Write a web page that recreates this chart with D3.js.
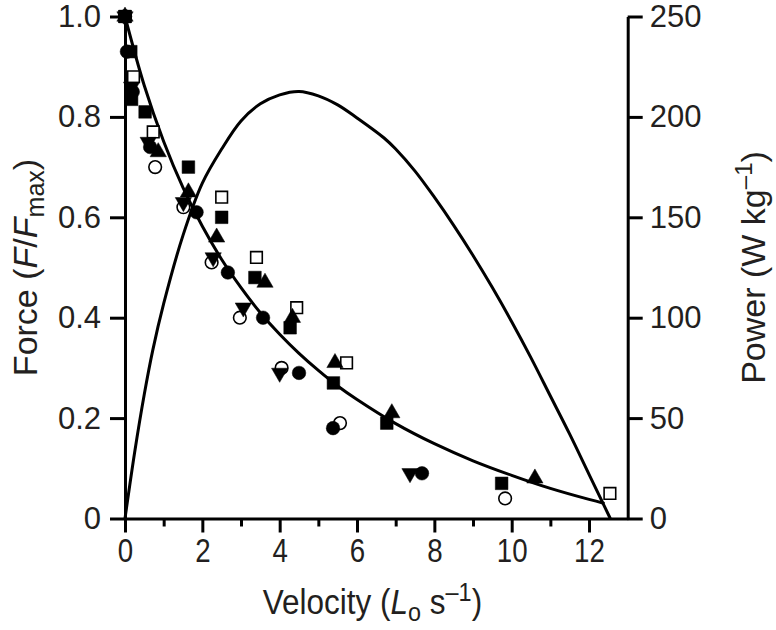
<!DOCTYPE html>
<html>
<head>
<meta charset="utf-8">
<script src="https://cdn.jsdelivr.net/npm/d3@7"></script>
<style>
  html, body { margin: 0; padding: 0; background: #fff; }
  svg { display: block; }
  .lbl { font-family: "Liberation Sans", Arial, sans-serif; fill: #231f20; }
</style>
</head>
<body>
<svg id="chart" width="776" height="630"></svg>
<script>
// ---------- data ----------
const xTicksMajor = [0, 2, 4, 6, 8, 10, 12];
const xTicksMinor = [1, 3, 5, 7, 9, 11];
const forceTicks = [0, 0.2, 0.4, 0.6, 0.8, 1.0];
const powerTicks = [0, 50, 100, 150, 200, 250];

// force–velocity fit curve (velocity, F/Fmax)
const forceCurve = [
  [0, 1.0], [0.5, 0.862], [1.0, 0.751], [1.5, 0.659], [2.0, 0.582], [2.5, 0.516],
  [3.0, 0.460], [3.5, 0.410], [4.0, 0.367], [4.5, 0.329], [5.0, 0.295], [5.5, 0.264],
  [6.0, 0.237], [7.0, 0.189], [8.0, 0.149], [9.0, 0.115], [10.0, 0.086], [11.0, 0.060],
  [12.0, 0.038], [12.4, 0.030]
];
// power–velocity curve (velocity, W kg-1)
const powerCurve = [
  [0, 0], [0.25, 33], [0.5, 62], [0.72, 84], [1.0, 107], [1.5, 141], [2.0, 167],
  [2.5, 184], [3.0, 198], [3.5, 206.5], [4.0, 211], [4.5, 212.7], [5.0, 210.5],
  [5.5, 206], [6.0, 199.5], [6.7, 189.5], [7.0, 184], [7.5, 173], [8.0, 160],
  [8.5, 146], [9.0, 131], [9.5, 115], [10.0, 98], [10.5, 80], [11.0, 61],
  [11.5, 42], [12.0, 22], [12.55, 0]
];

// measured points (velocity, F/Fmax) for each muscle
const filledCircles = [[0, 1.0], [0.05, 0.93], [0.2, 0.85], [0.65, 0.74], [1.85, 0.61], [2.66, 0.49],
  [3.57, 0.40], [4.5, 0.29], [5.38, 0.18], [7.68, 0.09]];
const openCircles = [[0, 1.0], [0.78, 0.70], [1.51, 0.62], [2.24, 0.51], [2.97, 0.40], [4.05, 0.30],
  [5.56, 0.19], [9.83, 0.04]];
const filledSquares = [[0, 1.0], [0.15, 0.93], [0.17, 0.835], [0.52, 0.81], [1.64, 0.70], [2.5, 0.60],
  [3.36, 0.48], [4.27, 0.38], [5.39, 0.27], [6.77, 0.19], [9.74, 0.07]];
const openSquares = [[0, 1.0], [0.22, 0.88], [0.73, 0.77], [2.5, 0.64], [3.4, 0.52], [4.44, 0.42],
  [5.73, 0.31], [12.54, 0.05]];
const upTriangles = [[0, 1.0], [0.86, 0.73], [1.64, 0.65], [2.37, 0.56], [3.62, 0.47], [4.33, 0.40],
  [5.43, 0.31], [6.9, 0.21], [10.6, 0.08]];
const downTriangles = [[0, 1.0], [0.17, 0.86], [0.6, 0.75], [1.51, 0.63], [2.28, 0.52], [3.06, 0.42],
  [4.0, 0.29], [7.37, 0.09]];

// ---------- chart ----------
const svg = d3.select("#chart");
const x = d3.scaleLinear().domain([0, 13]).range([125, 627.7]);
const yF = d3.scaleLinear().domain([0, 1]).range([518.5, 16.5]);
const yP = d3.scaleLinear().domain([0, 250]).range([518.5, 16.5]);
const ink = "#000";
const textInk = "#231f20";
const axisW = 3;

// curves
const lineF = d3.line().x(d => x(d[0])).y(d => yF(d[1])).curve(d3.curveCatmullRom);
const lineP = d3.line().x(d => x(d[0])).y(d => yP(d[1])).curve(d3.curveCatmullRom);
svg.append("path").attr("d", lineF(forceCurve)).attr("fill", "none").attr("stroke", ink).attr("stroke-width", 3);
svg.append("path").attr("d", lineP(powerCurve)).attr("fill", "none").attr("stroke", ink).attr("stroke-width", 3);

// axes
function styleAxis(g) {
  g.select(".domain").attr("stroke", ink).attr("stroke-width", axisW);
  g.selectAll(".tick line").attr("stroke", ink).attr("stroke-width", axisW);
  g.selectAll(".tick text").attr("fill", textInk);
}
const gx = svg.append("g").attr("transform", `translate(0,${yF(0)})`)
  .call(d3.axisBottom(x).tickValues(xTicksMajor).tickSize(14).tickSizeOuter(0).tickPadding(5)
    .tickFormat(d3.format("d")));
styleAxis(gx);
gx.selectAll(".tick text").attr("class", "lbl").attr("font-size", 33).attr("dy", "0.74em")
  .attr("transform", "scale(0.84,1)");
svg.append("g").attr("transform", `translate(0,${yF(0)})`)
  .call(d3.axisBottom(x).tickValues(xTicksMinor).tickSize(8).tickFormat(""))
  .call(g => { g.select(".domain").remove(); g.selectAll(".tick line").attr("stroke", ink).attr("stroke-width", axisW); });

const gl = svg.append("g").attr("transform", `translate(${x(0)},0)`)
  .call(d3.axisLeft(yF).tickValues(forceTicks).tickSize(15).tickSizeOuter(0).tickPadding(9)
    .tickFormat(d => d === 0 ? "0" : d3.format(".1f")(d)));
styleAxis(gl);
gl.selectAll(".tick text").attr("class", "lbl").attr("font-size", 31);

const gr = svg.append("g").attr("transform", `translate(${x(13)},0)`)
  .call(d3.axisRight(yP).tickValues(powerTicks).tickSize(15).tickSizeOuter(0).tickPadding(7)
    .tickFormat(d3.format("d")));
styleAxis(gr);
gr.selectAll(".tick text").attr("class", "lbl").attr("font-size", 31);

// markers
const sym = (type, size) => d3.symbol().type(type).size(size)();
function drawMarkers(data, type, size, filled, rotate) {
  svg.append("g").selectAll("path").data(data).join("path")
    .attr("d", sym(type, size))
    .attr("transform", d => `translate(${x(d[0])},${yF(d[1])})` + (rotate ? " rotate(180)" : ""))
    .attr("fill", filled ? ink : "#fff")
    .attr("stroke", ink)
    .attr("stroke-width", filled ? 0.5 : 1.6);
}
drawMarkers(openCircles, d3.symbolCircle, 125, false, false);
drawMarkers(openSquares, d3.symbolSquare, 135, false, false);
drawMarkers(upTriangles, d3.symbolTriangle, 115, true, false);
drawMarkers(downTriangles, d3.symbolTriangle, 115, true, true);
drawMarkers(filledSquares, d3.symbolSquare, 160, true, false);
drawMarkers(filledCircles, d3.symbolCircle, 145, true, false);

// axis titles
const tL = svg.append("text").attr("class", "lbl").attr("font-size", 34)
  .attr("text-anchor", "middle").attr("transform", `translate(37,${yF(0.5)}) rotate(-90)`);
tL.append("tspan").text("Force (");
tL.append("tspan").attr("font-style", "italic").text("F");
tL.append("tspan").text("/");
tL.append("tspan").attr("font-style", "italic").text("F");
tL.append("tspan").attr("font-size", 25).attr("dy", 7).text("max");
tL.append("tspan").attr("dy", -7).text(")");

const tR = svg.append("text").attr("class", "lbl").attr("font-size", 34)
  .attr("text-anchor", "middle").attr("transform", `translate(765,${yF(0.5)}) rotate(-90)`);
tR.append("tspan").text("Power (W kg");
tR.append("tspan").attr("font-size", 24).attr("dy", -13).text("–1");
tR.append("tspan").attr("dy", 13).text(")");

const tB = svg.append("text").attr("class", "lbl").attr("font-size", 35)
  .attr("text-anchor", "middle").attr("transform", `translate(${x(6.4)},614) scale(0.9,1)`);
tB.append("tspan").text("Velocity (");
tB.append("tspan").attr("font-style", "italic").text("L");
tB.append("tspan").attr("font-size", 26).attr("dy", 7).text("o");
tB.append("tspan").attr("dy", -7).text(" s");
tB.append("tspan").attr("font-size", 26).attr("dy", -13).text("–1");
tB.append("tspan").attr("dy", 13).text(")");
</script>
</body>
</html>
